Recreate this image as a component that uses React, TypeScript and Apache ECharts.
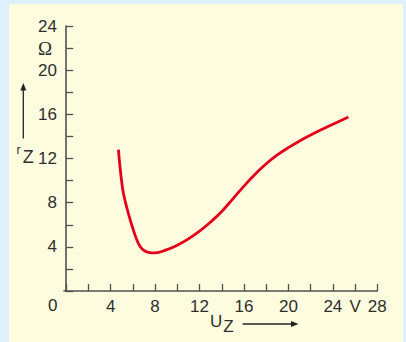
import React, { useEffect, useRef } from "react";
import * as echarts from "echarts";

// Zener diode dynamic resistance r_Z vs U_Z
const curveX = [4.7, 4.9, 5.15, 5.6, 6.05, 6.5, 6.95, 7.5, 8.0, 9.0, 10.0, 11.0, 12.0, 13.0, 14.0, 15.0, 16.0, 17.0, 18.0, 19.0, 20.0, 21.0, 22.0, 23.0, 24.0, 25.4];
const curveY = [12.8, 10.7, 8.85, 7.0, 5.5, 4.3, 3.7, 3.48, 3.45, 3.72, 4.15, 4.72, 5.42, 6.25, 7.2, 8.35, 9.5, 10.58, 11.52, 12.32, 12.99, 13.58, 14.12, 14.62, 15.1, 15.75];

const xTickLabels: Record<number, string> = { 4: "4", 8: "8", 12: "12", 16: "16", 20: "20", 24: "24", 26: "V", 28: "28" };
const yTickLabels: Record<number, string> = { 4: "4", 8: "8", 12: "12", 16: "16", 20: "20", 22: "{om|Ω}", 24: "24" };

const FONT = "Liberation Sans, Arial, Helvetica, sans-serif";
const AXIS = "#505050";
const TEXT = "#2e2e2e";

export default function App() {
  const ref = useRef<HTMLDivElement>(null);
  useEffect(() => {
    if (!ref.current) return;
    const chart = echarts.init(ref.current, null, { renderer: "svg" });
    const data = curveX.map((x, i) => [x, curveY[i]]);
    chart.setOption({
      animation: false,
      backgroundColor: "transparent",
      textStyle: { fontFamily: FONT },
      grid: { left: 66.2, right: 28.7, top: 26, bottom: 51, containLabel: false },
      xAxis: {
        type: "value",
        min: 0,
        max: 28,
        interval: 2,
        splitLine: { show: false },
        axisLine: { show: true, lineStyle: { color: AXIS, width: 1.6 } },
        axisTick: { show: true, inside: true, length: 7, lineStyle: { color: AXIS, width: 1.3 } },
        axisLabel: {
          margin: 7,
          fontSize: 17,
          color: TEXT,
          fontFamily: FONT,
          showMinLabel: true,
          showMaxLabel: true,
          formatter: (v: number) => xTickLabels[v] ?? "",
        },
      },
      yAxis: {
        type: "value",
        min: 0,
        max: 24,
        interval: 2,
        offset: 2.2,
        splitLine: { show: false },
        axisLine: { show: true, lineStyle: { color: AXIS, width: 1.6 } },
        axisTick: { show: true, inside: true, length: 7, lineStyle: { color: AXIS, width: 1.3 } },
        axisLabel: {
          margin: 7,
          fontSize: 17,
          color: TEXT,
          fontFamily: FONT,
          showMinLabel: true,
          showMaxLabel: true,
          formatter: (v: number) => yTickLabels[v] ?? "",
          rich: {
            om: { fontFamily: "Liberation Serif, Times New Roman, serif", fontSize: 19, color: TEXT, padding: [0, 5, 0, 0] },
          },
        },
      },
      graphic: [
        { type: "rect", z: -10, silent: true, shape: { x: 9, y: 4, width: 394, height: 340 }, style: { fill: "#fefcdf" } },
        { type: "line", shape: { x1: 63.4, y1: 290.8, x2: 67, y2: 290.8 }, style: { stroke: AXIS, lineWidth: 1.6 } },
        { type: "text", x: 52.7, y: 305, style: { text: "0", fontSize: 17, fontFamily: FONT, fill: TEXT, align: "center", verticalAlign: "middle" } },
        // y axis name
        { type: "line", shape: { x1: 23.3, y1: 138.5, x2: 23.3, y2: 89 }, style: { stroke: "#222", lineWidth: 1.3 } },
        { type: "polygon", shape: { points: [[20.3, 90.5], [23.3, 83], [26.3, 90.5]] }, style: { fill: "#222" } },
        { type: "text", x: 18.4, y: 150, style: { text: "r", fontSize: 12, fontFamily: FONT, fill: TEXT, align: "center", verticalAlign: "middle" } },
        { type: "text", x: 28.3, y: 156.5, style: { text: "Z", fontSize: 18, fontFamily: FONT, fill: TEXT, align: "center", verticalAlign: "middle" } },
        // x axis name
        { type: "text", x: 216.2, y: 321.5, style: { text: "U", fontSize: 17, fontFamily: FONT, fill: TEXT, align: "center", verticalAlign: "middle" } },
        { type: "text", x: 228.5, y: 326.3, style: { text: "Z", fontSize: 17, fontFamily: FONT, fill: TEXT, align: "center", verticalAlign: "middle" } },
        { type: "line", shape: { x1: 242.7, y1: 324, x2: 292, y2: 324 }, style: { stroke: "#222", lineWidth: 1.3 } },
        { type: "polygon", shape: { points: [[291, 321], [298.5, 324], [291, 327]] }, style: { fill: "#222" } },
      ],
      series: [
        {
          type: "line",
          data,
          smooth: 0.4,
          showSymbol: false,
          symbol: "none",
          lineStyle: { color: "#e3001b", width: 2.8 },
          clip: false,
        },
      ],
    });
    return () => chart.dispose();
  }, []);
  return (
    <div style={{ position: "fixed", left: 0, top: 0, width: 406, height: 342, background: "#def0fb" }}>
      <div ref={ref} style={{ width: 406, height: 342 }} />
    </div>
  );
}
